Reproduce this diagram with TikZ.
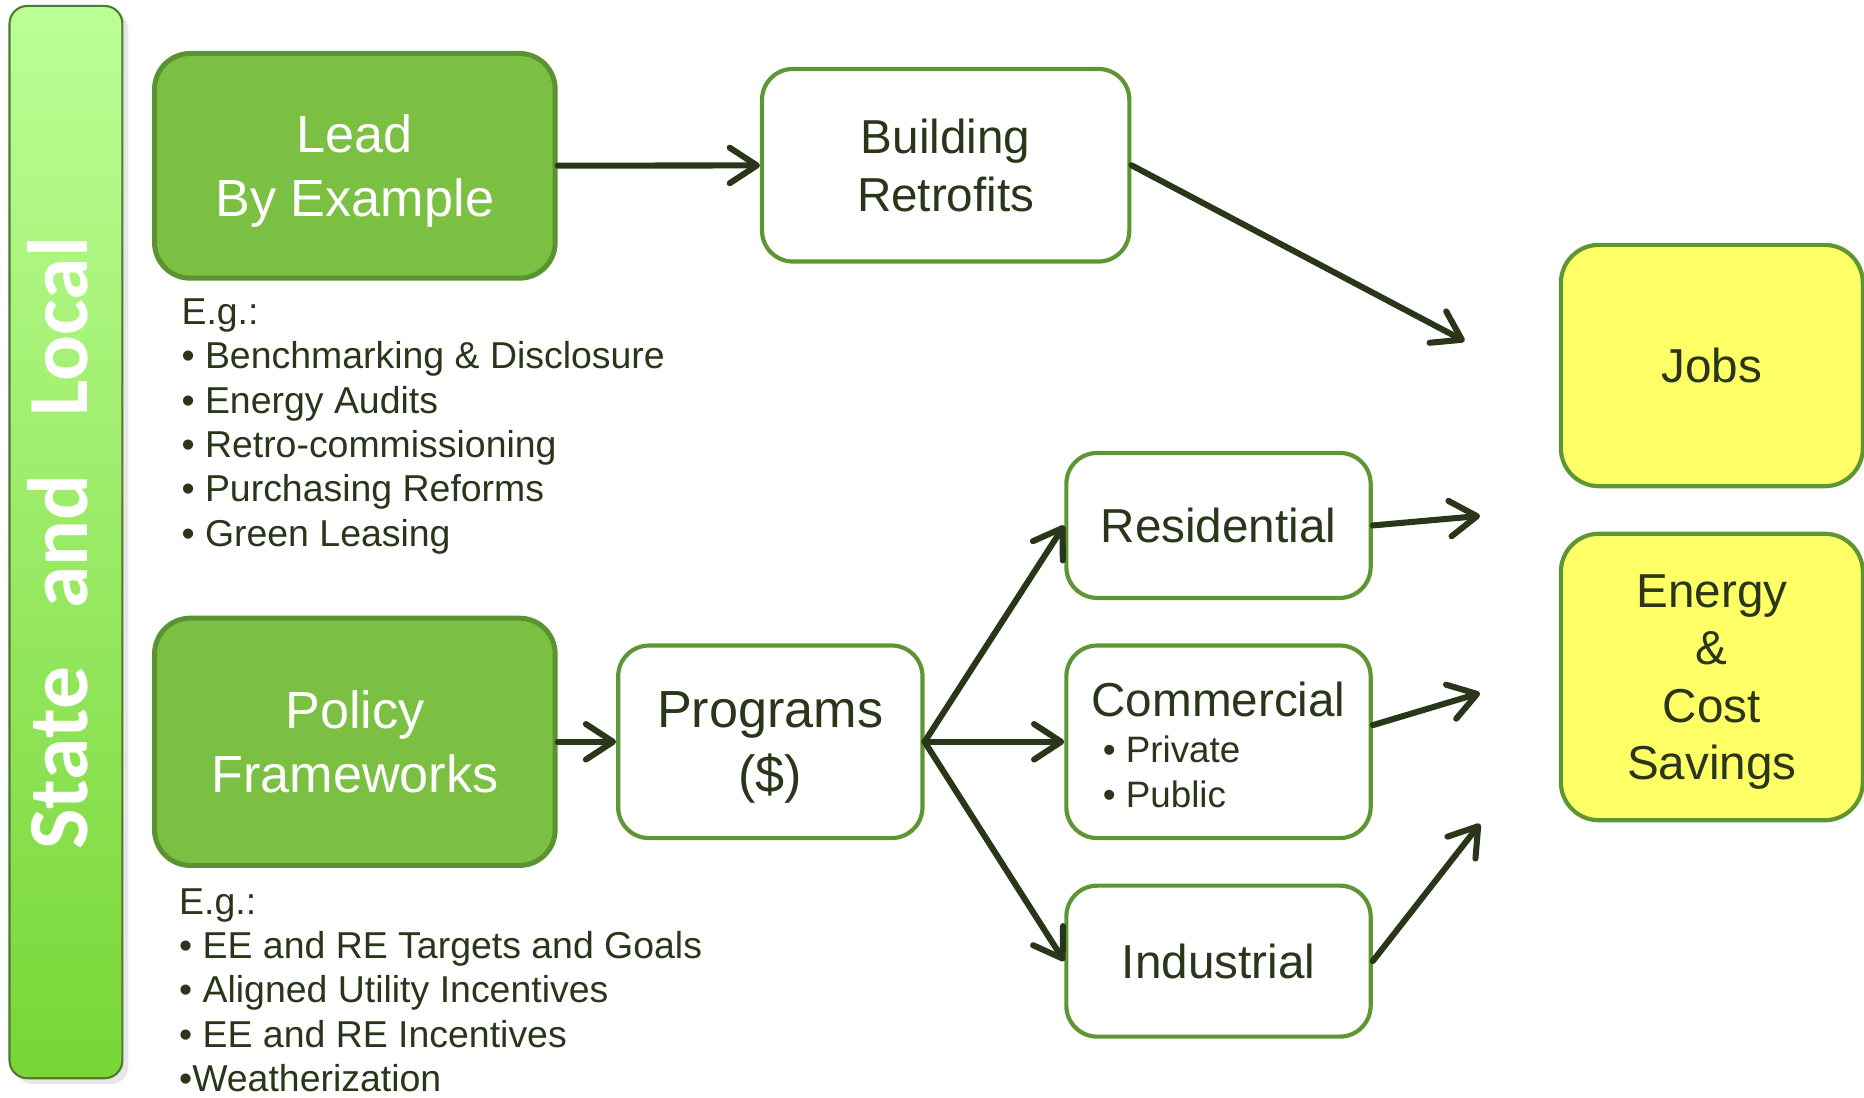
\documentclass[tikz,border=0pt]{standalone}
\usepackage{fontspec}
\setmainfont{Liberation Sans}
\newfontfamily\barfont{Carlito}
\usepackage{tikz}
\usetikzlibrary{arrows.meta,shadows}
\usepackage{xcolor}
\definecolor{leafgreen}{HTML}{7BC043}
\definecolor{leafedge}{HTML}{5B9232}
\definecolor{boxedge}{HTML}{5E9634}
\definecolor{inkgreen}{HTML}{29361A}
\definecolor{lemon}{HTML}{FFFF66}
\definecolor{bartop}{HTML}{BCFF96}
\definecolor{barbottom}{HTML}{78D636}
\definecolor{baredge}{HTML}{4C7A2E}

\begin{document}
\begin{tikzpicture}[policy node/.style={rectangle, rounded corners=0.3cm, draw=leafedge, line width=1.2pt, fill=leafgreen, text=white, align=center, text depth=0pt, minimum width=3.37cm, font=\fontsize{12.5}{15.4}\selectfont}, stage box/.style={rectangle, rounded corners=0.26cm, draw=boxedge, line width=1pt, fill=white, text=inkgreen, align=center, text depth=0pt, minimum width=2.56cm, font=\fontsize{11.4}{13.7}\selectfont}, goal box/.style={stage box, fill=lemon, minimum width=2.54cm, rounded corners=0.32cm}, note/.style={anchor=north west, inner sep=0pt, align=left, text=inkgreen, font=\fontsize{8.96}{10.62}\selectfont}, link/.style={-{Straight Barb[length=6.5pt,width=8.5pt,round]}, draw=inkgreen, line width=1.45pt, line cap=round}]
\useasboundingbox (0,0) rectangle (15.68,9.23);
\node[rectangle, rounded corners=0.15cm, draw=baredge, line width=0.5pt, top color=bartop, bottom color=barbottom, minimum width=0.95cm, minimum height=9.02cm, drop shadow={shadow xshift=0.05cm, shadow yshift=-0.05cm, opacity=0.2}] (bar) at (0.555,4.67) {};
\node[rotate=90, text=white, font=\barfont\bfseries\fontsize{20.5}{21}\selectfont] (barlabel) at (0.49,4.66) {State~~~and~~~Local};
\node[policy node, minimum height=1.89cm] (lead) at (2.985,7.835) {Lead\\By Example};
\node[stage box, minimum width=3.09cm, minimum height=1.62cm] (retrofit) at (7.955,7.84) {Building\\Retrofits};
\node[policy node, minimum height=2.08cm] (policy) at (2.985,2.99) {Policy\\Frameworks};
\node[stage box, minimum height=1.62cm, font=\fontsize{12.5}{15.6}\selectfont] (programs) at (6.48,2.99) {Programs\\(\$)};
\node[stage box, minimum height=1.22cm] (resid) at (10.25,4.81) {Residential};
\node[stage box, minimum height=1.62cm] (comm) at (10.25,2.99) {};
\node[text=inkgreen, font=\fontsize{11.4}{13.7}\selectfont] (commtitle) at (10.25,3.35) {Commercial};
\node[note, anchor=west, font=\fontsize{8.8}{10.8}\selectfont] (commlist) at (9.27,2.74) {\textbullet\ Private\\\textbullet\ Public};
\node[stage box, minimum height=1.27cm] (indus) at (10.25,1.145) {Industrial};
\node[goal box, minimum height=2.03cm] (jobs) at (14.40,6.155) {Jobs};
\node[goal box, minimum height=2.41cm] (savings) at (14.40,3.535) {Energy\\\&\\Cost\\Savings};
\node[note] (leadnote) at (1.52,6.725) {E.g.:\\\textbullet\ Benchmarking \& Disclosure\\\textbullet\ Energy Audits\\\textbullet\ Retro-commissioning\\\textbullet\ Purchasing Reforms\\\textbullet\ Green Leasing};
\node[note] (policynote) at (1.50,1.765) {E.g.:\\\textbullet\ EE and RE Targets and Goals\\\textbullet\ Aligned Utility Incentives\\\textbullet\ EE and RE Incentives\\\textbullet Weatherization};
\coordinate (jobsin) at (12.32,6.36);
\coordinate (residout) at (12.45,4.89);
\coordinate (commout) at (12.45,3.40);
\coordinate (indusout) at (12.45,2.30);
\path
(lead) edge[link] (retrofit)
(retrofit.east) edge[link] (jobsin)
(policy) edge[link] (programs)
(programs.east) edge[link] (resid.west)
(programs.east) edge[link] (comm.west)
(programs.east) edge[link] (indus.west)
(resid.east) edge[link] (residout)
([yshift=0.14cm]comm.east) edge[link] (commout)
(indus.east) edge[link] (indusout);
\end{tikzpicture}
\end{document}
